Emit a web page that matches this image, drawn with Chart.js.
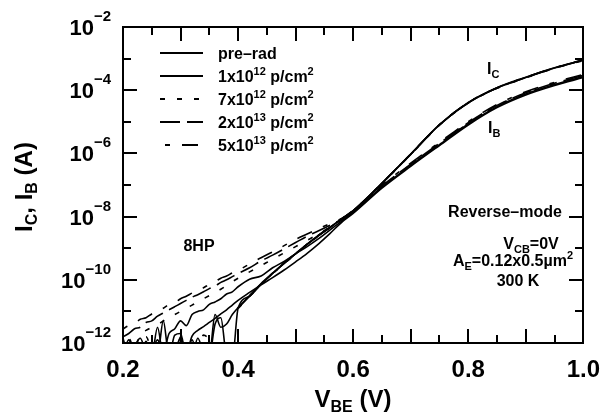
<!DOCTYPE html>
<html>
<head>
<meta charset="utf-8">
<script src="https://cdn.jsdelivr.net/npm/chart.js@4.4.0/dist/chart.umd.min.js"></script>
<style>
  html, body { margin: 0; padding: 0; background: #fff; }
</style>
</head>
<body>
<canvas id="chart" width="613" height="416"></canvas>
<script>
// V_BE sweep (V)
const vBE = [0.20, 0.21, 0.22, 0.23, 0.24, 0.25, 0.26, 0.27, 0.28, 0.29,
             0.30, 0.31, 0.32, 0.33, 0.34, 0.35, 0.36, 0.37, 0.38, 0.39,
             0.40, 0.42, 0.44, 0.46, 0.48, 0.50, 0.52, 0.54, 0.56, 0.58,
             0.60, 0.65, 0.70, 0.75, 0.80, 0.85, 0.90, 0.95, 1.00];

// log10 of current (A). null = not drawn
const ibPreRad = [null, null, null, null, null, null, null, null, null, -12.30,
  -11.85, -12.30, -11.78, -11.60, -11.48, -11.35, -11.22, -11.08, -10.95, -10.80,
  -10.65, -10.40, -10.16, -9.93, -9.69, -9.43, -9.16, -8.86, -8.53, -8.18,
  -7.90, -7.10, -6.41, -5.75, -5.10, -4.55, -4.15, -3.85, -3.60];
const ib1e12 = [null, null, null, null, null, -12.30, -11.90, -12.30, -11.70, -11.55,
  -11.30, -11.45, -11.10, -11.00, -10.95, -10.78, -10.70, -10.60, -10.45, -10.38,
  -10.22, -9.98, -9.88, -9.62, -9.42, -9.18, -8.95, -8.70, -8.42, -8.14,
  -7.87, -7.07, -6.38, -5.72, -5.07, -4.52, -4.12, -3.82, -3.57];
const ib7e12 = [-12.30, -11.85, -12.20, -11.70, -11.60, -11.50, -11.42, -11.30, -11.20, -11.10,
  -11.00, -10.90, -10.80, -10.70, -10.60, -10.50, -10.40, -10.30, -10.18, -10.06,
  -9.95, -9.75, -9.55, -9.35, -9.15, -8.95, -8.75, -8.55, -8.33, -8.10,
  -7.85, -7.05, -6.36, -5.70, -5.05, -4.50, -4.10, -3.80, -3.55];
const ib2e13 = [-11.80, -11.70, -11.55, -11.50, -11.35, -11.30, -11.15, -11.05, -10.95, -10.85,
  -10.75, -10.65, -10.55, -10.47, -10.38, -10.28, -10.20, -10.08, -10.00, -9.90,
  -9.80, -9.62, -9.40, -9.22, -9.02, -8.82, -8.62, -8.45, -8.27, -8.08,
  -7.83, -7.03, -6.34, -5.68, -5.03, -4.48, -4.08, -3.78, -3.53];
const ib5e13 = [-11.55, -11.45, -11.38, -11.25, -11.20, -11.08, -11.00, -10.90, -10.78, -10.72,
  -10.60, -10.52, -10.42, -10.33, -10.25, -10.14, -10.06, -9.95, -9.88, -9.78,
  -9.70, -9.50, -9.30, -9.12, -8.92, -8.72, -8.55, -8.38, -8.22, -8.06,
  -7.80, -7.00, -6.31, -5.65, -5.00, -4.45, -4.05, -3.75, -3.50];

const icPreRad = [-11.85, -12.40, -12.10, -11.85, -12.30, -12.40, -11.50, -12.40, -12.40, -11.75,
  -11.70, -12.40, -12.40, -11.85, -12.30, -12.40, -11.40, -11.20, -12.40, -12.50,
  -10.90, -10.52, -10.14, -9.80, -9.48, -9.18, -8.88, -8.60, -8.34, -8.08,
  -7.82, -6.95, -6.03, -5.10, -4.40, -3.93, -3.60, -3.30, -3.05];
const ic1e12 = [-12.40, -11.90, -12.40, -12.40, -11.95, -12.40, -12.40, -11.30, -12.40, -12.40,
  -11.80, -12.40, -11.90, -12.40, -12.40, -12.40, -11.10, -11.50, -11.40, -11.10,
  -10.88, -10.50, -10.12, -9.79, -9.47, -9.17, -8.87, -8.59, -8.33, -8.07,
  -7.81, -6.94, -6.02, -5.09, -4.39, -3.92, -3.59, -3.29, -3.04];
const ic7e12 = [null, null, null, -12.30, -11.80, -12.30, null, null, null, null,
  null, null, null, -12.30, -11.75, -11.90, -12.30, null, null, null,
  -10.91, -10.53, -10.15, -9.81, -9.49, -9.19, -8.89, -8.61, -8.35, -8.09,
  -7.83, -6.96, -6.04, -5.11, -4.41, -3.94, -3.61, -3.31, -3.06];
const ic2e13 = [null, null, null, null, null, null, null, null, null, null,
  null, null, null, null, null, null, null, null, null, null,
  -10.90, -10.52, -10.14, -9.80, -9.48, -9.18, -8.88, -8.60, -8.34, -8.08,
  -7.82, -6.95, -6.03, -5.10, -4.40, -3.93, -3.60, -3.30, -3.05];
const ic5e13 = [null, null, null, null, null, null, null, null, null, null,
  null, null, null, null, null, null, null, null, null, null,
  -10.89, -10.51, -10.13, -9.79, -9.47, -9.17, -8.87, -8.59, -8.33, -8.07,
  -7.81, -6.94, -6.02, -5.09, -4.39, -3.92, -3.59, -3.29, -3.04];

// axis ticks
const xTickLabels = [0.2, 0.4, 0.6, 0.8, 1.0];
const xTickMarks = [0.2, 0.25, 0.3, 0.35, 0.4, 0.45, 0.5, 0.55, 0.6, 0.65, 0.7, 0.75, 0.8, 0.85, 0.9, 0.95, 1.0];
const yTickLabels = [-12, -10, -8, -6, -4, -2];
const yTickMarks = [-12, -11, -10, -9, -8, -7, -6, -5, -4, -3, -2];

// legend: fluence labels (mantissa|exponent) and dash style
const doseNames = ["pre\u2013rad", "1x10|12", "7x10|12", "2x10|13", "5x10|13"];
const doseDash = [[], [], [5, 12], [20, 7], [5, 12, 16, 12]];

const FONT = '"Liberation Sans", Arial, Helvetica, sans-serif';
const fnt = (s) => "bold " + s + "px " + FONT;

// parts: [text, ''|'sup'|'sub']
function drawRich(ctx, parts, x, y, size, align, supShift) {
  const small = Math.round(size * 0.68);
  const up = supShift || 0.45;
  let w = 0;
  parts.forEach(([t, m]) => { ctx.font = fnt(m ? small : size); w += ctx.measureText(t).width; });
  let cx = align === "center" ? x - w / 2 : align === "right" ? x - w : x;
  ctx.textAlign = "left";
  ctx.textBaseline = "alphabetic";
  parts.forEach(([t, m]) => {
    ctx.font = fnt(m ? small : size);
    const dy = m === "sup" ? -size * up : m === "sub" ? size * 0.22 : 0;
    ctx.fillText(t, cx, y + dy);
    cx += ctx.measureText(t).width;
  });
}

function mk(label, logs, dash) {
  return {
    label,
    data: vBE.map((v, i) => ({ x: v, y: logs[i] === null ? null : Math.pow(10, logs[i]) })),
    borderColor: "#000",
    borderWidth: 1.6,
    borderDash: dash,
    pointRadius: 0,
    fill: false,
    spanGaps: false,
    cubicInterpolationMode: "monotone",
  };
}

function seg(ctx, x1, y1, x2, y2) {
  ctx.beginPath();
  ctx.moveTo(x1, y1);
  ctx.lineTo(x2, y2);
  ctx.stroke();
}

// marco, ticks hacia dentro, etiquetas y textos
const decor = {
  id: "decor",
  afterDraw(chart) {
    const ctx = chart.ctx;
    const a = chart.chartArea;
    const xs = chart.scales.x, ys = chart.scales.y;
    const L = Math.round(a.left), R = Math.round(a.right);
    const T = Math.round(a.top), B = Math.round(a.bottom);
    ctx.save();
    ctx.setLineDash([]);
    ctx.lineDashOffset = 0;
    ctx.fillStyle = "#000";
    ctx.strokeStyle = "#000";

    ctx.lineWidth = 2;
    ctx.strokeRect(L, T, R - L, B - T);

    // ticks hacia dentro
    xTickMarks.forEach((v) => {
      const px = Math.round(xs.getPixelForValue(v));
      const len = Math.abs(v * 10 - Math.round(v * 10)) < 1e-6 ? 14 : 8;
      ctx.fillRect(px - 1, B - len, 2, len);
      ctx.fillRect(px - 1, T, 2, len);
    });
    yTickMarks.forEach((e) => {
      const py = Math.round(ys.getPixelForValue(Math.pow(10, e)));
      const len = Math.abs(e) % 2 === 0 ? 14 : 8;
      ctx.fillRect(L, py - 1, len, 2);
      ctx.fillRect(R - len, py - 1, len, 2);
    });

    yTickLabels.forEach((e) => {
      const py = ys.getPixelForValue(Math.pow(10, e));
      drawRich(ctx, [["10", ""], ["\u2212" + (-e), "sup"]], L - 12, py + 8, 22, "right", 0.64);
    });

    // títulos de ejes
    drawRich(ctx, [["V", ""], ["BE", "sub"], [" (V)", ""]], (L + R) / 2, 407, 24, "center");
    ctx.save();
    ctx.translate(32, (T + B) / 2 + 2);
    ctx.rotate(-Math.PI / 2);
    drawRich(ctx, [["I", ""], ["C", "sub"], [", I", ""], ["B", "sub"], [" (A)", ""]], 0, 0, 24, "center");
    ctx.restore();

    // leyenda
    doseNames.forEach((name, i) => {
      const y = 53 + i * 23;
      ctx.lineWidth = 2;
      ctx.setLineDash(doseDash[i]);
      ctx.lineDashOffset = i === 4 ? 40 : 0;
      seg(ctx, 160, y, 203, y);
      ctx.setLineDash([]);
      ctx.lineDashOffset = 0;
      const p = name.split("|");
      const parts = p.length > 1
        ? [[p[0], ""], [p[1], "sup"], [" p/cm", ""], ["2", "sup"]]
        : [[p[0], ""]];
      drawRich(ctx, parts, 218, y + 5.5, 16, "left", 0.42);
    });

    // anotaciones
    drawRich(ctx, [["I", ""], ["C", "sub"]], 487, 74, 16, "left");
    drawRich(ctx, [["I", ""], ["B", "sub"]], 488, 133, 16, "left");
    drawRich(ctx, [["8HP", ""]], 199, 251, 16, "center");
    drawRich(ctx, [["Reverse\u2013mode", ""]], 505, 217, 16, "center");
    drawRich(ctx, [["V", ""], ["CB", "sub"], ["=0V", ""]], 531, 249, 16, "center");
    drawRich(ctx, [["A", ""], ["E", "sub"], ["=0.12x0.5\u00b5m", ""], ["2", "sup"]], 513, 266, 16, "center", 0.42);
    drawRich(ctx, [["300 K", ""]], 518, 286, 16, "center");
    ctx.restore();
  },
};

const datasets = [
  mk("IB pre-rad", ibPreRad, doseDash[0]),
  mk("IB 1e12", ib1e12, doseDash[1]),
  mk("IB 7e12", ib7e12, doseDash[2]),
  mk("IB 2e13", ib2e13, doseDash[3]),
  mk("IB 5e13", ib5e13, doseDash[4]),
  mk("IC pre-rad", icPreRad, doseDash[0]),
  mk("IC 1e12", ic1e12, doseDash[1]),
  mk("IC 7e12", ic7e12, doseDash[2]),
  mk("IC 2e13", ic2e13, doseDash[3]),
  mk("IC 5e13", ic5e13, doseDash[4]),
];

new Chart(document.getElementById("chart").getContext("2d"), {
  type: "line",
  data: { datasets },
  plugins: [decor],
  options: {
    responsive: false,
    animation: false,
    layout: { padding: { left: 0, right: 20, top: 27, bottom: 0 } },
    plugins: { legend: { display: false }, tooltip: { enabled: false } },
    scales: {
      x: {
        type: "linear",
        min: 0.2,
        max: 1.0,
        grid: { display: false, drawTicks: false },
        border: { display: false },
        afterBuildTicks: (s) => { s.ticks = xTickLabels.map((v) => ({ value: v })); },
        afterFit: (s) => { s.height = 73; },
        ticks: {
          padding: 13,
          autoSkip: false,
          maxRotation: 0,
          color: "#000",
          font: { family: FONT, size: 24, weight: "bold" },
          callback: (v) => Number(v).toFixed(1),
        },
      },
      y: {
        type: "logarithmic",
        min: 1e-12,
        max: 1e-2,
        grid: { display: false, drawTicks: false },
        border: { display: false },
        ticks: { display: false },
        afterFit: (s) => { s.width = 123; },
      },
    },
  },
});
</script>
</body>
</html>
